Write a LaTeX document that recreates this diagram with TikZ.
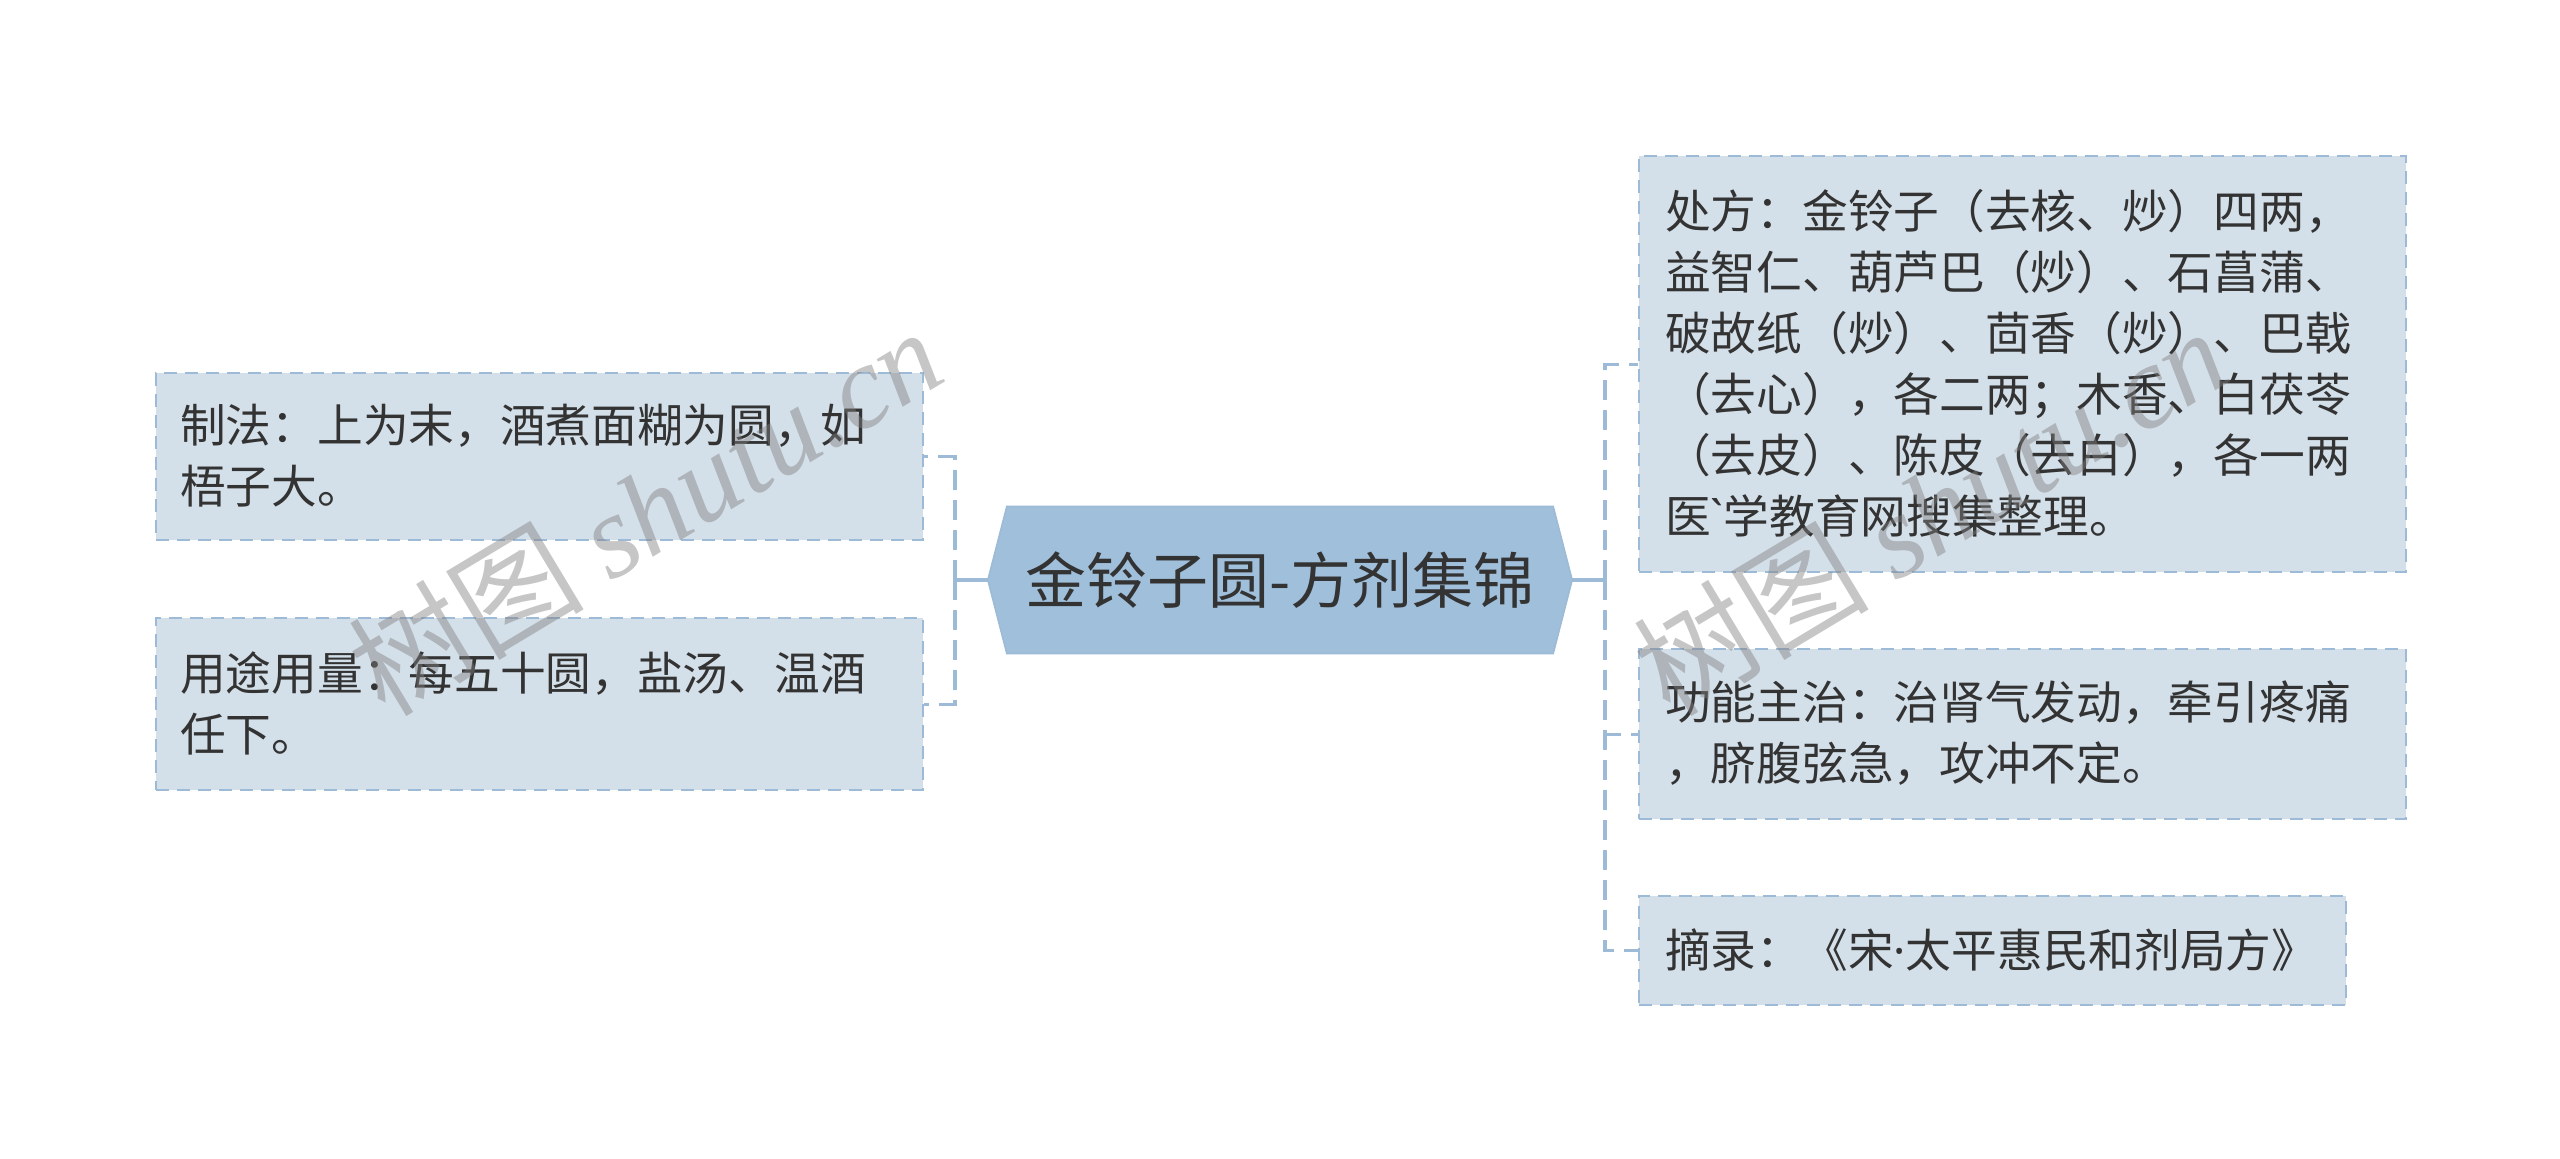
\documentclass[tikz,border=0pt]{standalone}
\usepackage{fontspec}
\setmainfont{Noto Sans CJK SC}
\newfontfamily\wmserif{Liberation Serif}
\newfontfamily\latinsans{Noto Sans}
\usetikzlibrary{backgrounds}
\definecolor{boxfill}{HTML}{D4E0E9}
\definecolor{linec}{HTML}{9DBAD6}
\definecolor{rootfill}{HTML}{A0BFDB}
\definecolor{txt}{HTML}{333333}
\begin{document}
\begin{tikzpicture}[x=1pt,y=-1pt,
  leaf/.style={draw=linec, line width=2.4pt, dash pattern=on 13pt off 8pt, fill=boxfill,
    anchor=north west, inner sep=0pt},
  leaftext/.style={text=txt, align=left, anchor=west, inner sep=0pt,
    font=\fontsize{45.7}{61}\selectfont},
  conn/.style={draw=linec, line width=3.4pt, dash pattern=on 20pt off 10pt},
  connsolid/.style={draw=linec, line width=3.4pt},
  wm/.style={text=gray, opacity=0.45, rotate=31, font=\fontsize{118}{118}\selectfont}]
\useasboundingbox (0,0) rectangle (2560,1159);

% root
\node[text=txt, font=\fontsize{61}{70}\selectfont, minimum width=584pt, minimum height=147pt, inner sep=0pt] (root) at (1280,580) {金铃子圆-方剂集锦};
\begin{scope}[on background layer]
\filldraw[fill=rootfill, draw=linec, line width=1.5pt] (root.west) -- ([xshift=19pt]root.north west) -- ([xshift=-19pt]root.north east) -- (root.east) -- ([xshift=-19pt]root.south east) -- ([xshift=19pt]root.south west) -- cycle;
\end{scope}

% left leaves
\node[leaf, minimum width=767pt, minimum height=167pt] (l1) at (155,372) {};
\node[leaftext] (l1t) at (180,456) {制法：上为末，酒煮面糊为圆，如\\梧子大。};
\node[leaf, minimum width=767pt, minimum height=172pt] (l2) at (155,617) {};
\node[leaftext] (l2t) at (180,703) {用途用量：每五十圆，盐汤、温酒\\任下。};

% right leaves
\node[leaf, minimum width=767pt, minimum height=416pt] (r1) at (1638,155) {};
\node[leaftext] (r1t) at (1665,363) {处方：金铃子（去核、炒）四两，\\益智仁、葫芦巴（炒）、石菖蒲、\\破故纸（炒）、茴香（炒）、巴戟\\（去心），各二两；木香、白茯苓\\（去皮）、陈皮（去白），各一两\\医{\latinsans\symbol{"60}}学教育网搜集整理。};
\node[leaf, minimum width=767pt, minimum height=170pt] (r2) at (1638,648) {};
\node[leaftext] (r2t) at (1665,733) {功能主治：治肾气发动，牵引疼痛\\，脐腹弦急，攻冲不定。};
\node[leaf, minimum width=707pt, minimum height=109pt] (r3) at (1638,895) {};
\node[leaftext] (r3t) at (1665,950) {摘录：《宋{\latinsans\symbol{"B7}}太平惠民和剂局方》};

% connectors
\coordinate (lj) at (955,580);
\coordinate (rj) at (1605,580);
\draw[connsolid] (root.west) -- (lj);
\draw[connsolid] (root.east) -- (rj);
\draw[conn] (lj) |- (l1.east);
\draw[conn] (lj) |- (l2.east);
\draw[conn] (rj) |- (r1.west);
\draw[conn] (rj) |- (r2.west);
\draw[conn] (rj) |- (r3.west);

% watermarks
\node[wm] (wm1) at (645,510) {树图 {\wmserif\itshape shutu.cn}};
\node[wm] (wm2) at (1930,510) {树图 {\wmserif\itshape shutu.cn}};
\end{tikzpicture}
\end{document}
